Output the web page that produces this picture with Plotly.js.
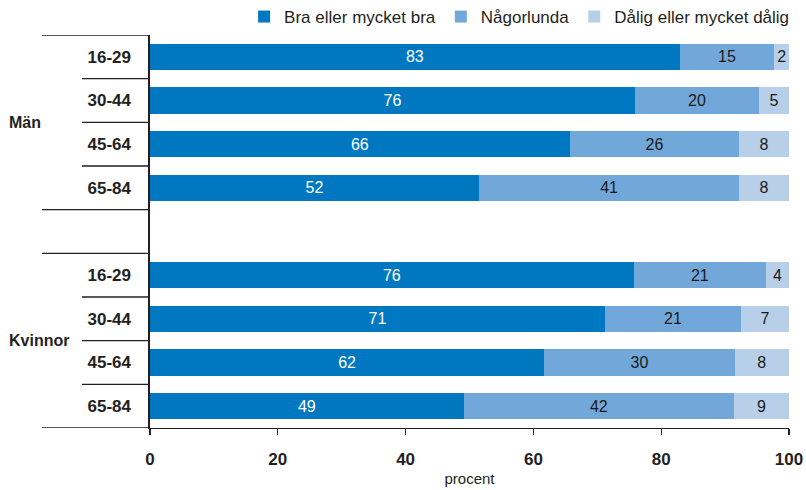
<!DOCTYPE html>
<html>
<head>
<meta charset="utf-8">
<script src="https://cdn.plot.ly/plotly-3.0.1.min.js"></script>
<style>html,body{margin:0;padding:0;background:#fff;}#chart{width:806px;height:490px;}</style>
</head>
<body>
<div id="chart"></div>
<script>
// ---- data ----
const groups = ['Män', 'Kvinnor'];
const ages = ['16-29', '30-44', '45-64', '65-84'];
const seriesNames = ['Bra eller mycket bra', 'Någorlunda', 'Dålig eller mycket dålig'];

// shares (percent)
const goodMen   = [82.9, 75.9, 65.7, 51.5];
const fairMen   = [14.8, 19.4, 26.5, 40.7];
const poorMen   = [2.3, 4.7, 7.8, 7.8];
const goodWomen = [75.7, 71.2, 61.7, 49.1];
const fairWomen = [20.7, 21.3, 29.8, 42.3];
const poorWomen = [3.6, 7.5, 8.5, 8.6];

// printed labels
const goodMenLbl   = [83, 76, 66, 52];
const fairMenLbl   = [15, 20, 26, 41];
const poorMenLbl   = [2, 5, 8, 8];
const goodWomenLbl = [76, 71, 62, 49];
const fairWomenLbl = [21, 21, 30, 42];
const poorWomenLbl = [4, 7, 8, 9];

const xTicks = [0, 20, 40, 60, 80, 100];
const xTitle = 'procent';

// ---- style ----
const colors = ['#0078c1', '#71a7d9', '#b8cfea'];
const textColors = ['#ffffff', '#1a1a1a', '#1a1a1a'];
const FONT = 'Liberation Sans, Arial, sans-serif';
const INK = '#231f20';

// ---- build categories (with an empty slot between groups) ----
const cats = [];
const tickText = [];
groups.forEach((g, gi) => {
  ages.forEach(a => { cats.push(g + ' ' + a); tickText.push(a); });
  if (gi < groups.length - 1) { cats.push('gap'); tickText.push(''); }
});

function withGap(a, b) { return a.concat([null], b); }
const vals = [withGap(goodMen, goodWomen), withGap(fairMen, fairWomen), withGap(poorMen, poorWomen)];
const lbls = [withGap(goodMenLbl, goodWomenLbl), withGap(fairMenLbl, fairWomenLbl), withGap(poorMenLbl, poorWomenLbl)];

const traces = seriesNames.map((name, i) => ({
  type: 'bar',
  orientation: 'h',
  name: name,
  y: cats,
  x: vals[i],
  text: lbls[i].map(v => v === null ? '' : String(v)),
  textposition: 'inside',
  insidetextanchor: 'middle',
  textangle: 0,
  constraintext: 'none',
  textfont: {family: FONT, size: 16, color: textColors[i]},
  marker: {color: colors[i], line: {width: 0}},
  hoverinfo: 'skip'
}));

// ---- dividers & group labels on the left ----
const shapes = [];
const annotations = [];
const longX0 = -108 / 639, shortX0 = -68 / 639;
let idx = 0;
groups.forEach((g, gi) => {
  const start = idx;
  shapes.push({type: 'line', xref: 'paper', yref: 'y', x0: longX0, x1: 0, y0: start - 0.5, y1: start - 0.5, line: {color: INK, width: 1.4}});
  for (let k = 1; k < ages.length; k++) {
    shapes.push({type: 'line', xref: 'paper', yref: 'y', x0: shortX0, x1: 0, y0: start + k - 0.5, y1: start + k - 0.5, line: {color: INK, width: 1.4}});
  }
  const end = start + ages.length - 1;
  shapes.push({type: 'line', xref: 'paper', yref: 'y', x0: longX0, x1: 0, y0: end + 0.5, y1: end + 0.5, line: {color: INK, width: 1.4}});
  annotations.push({text: g, xref: 'paper', yref: 'y', x: -143 / 639, y: (start + end) / 2, xanchor: 'left', yanchor: 'middle', showarrow: false, font: {family: FONT, size: 16, color: INK, weight: 'bold'}});
  idx = end + 2;
});

const layout = {
  width: 806, height: 490,
  margin: {l: 150, r: 17, t: 35, b: 62, autoexpand: false},
  paper_bgcolor: '#fff', plot_bgcolor: '#fff',
  barmode: 'stack',
  bargap: 0.4,
  font: {family: FONT, color: INK},
  showlegend: true,
  legend: {orientation: 'h', x: 1.008, xanchor: 'right', y: 1, yanchor: 'bottom', font: {family: FONT, size: 17, color: INK}, traceorder: 'normal', itemwidth: 30, tracegroupgap: 0, bgcolor: 'rgba(0,0,0,0)'},
  xaxis: {
    range: [0, 100], tickmode: 'array', tickvals: xTicks, ticktext: xTicks.map(String),
    showgrid: false, zeroline: false, showline: true, linecolor: INK, linewidth: 1.2,
    ticks: 'outside', ticklen: 6, tickcolor: INK, tickwidth: 1.2,
    ticklabelstandoff: 9,
    tickfont: {family: FONT, size: 17, color: INK, weight: 'bold'},
    title: {text: xTitle, font: {family: FONT, size: 15, color: INK}, standoff: 6}
  },
  yaxis: {
    type: 'category', categoryorder: 'array', categoryarray: cats,
    range: [cats.length - 0.5, -0.5],
    tickmode: 'array', tickvals: cats, ticktext: tickText,
    showgrid: false, zeroline: false, showline: true, linecolor: INK, linewidth: 1.6,
    ticks: 'outside', ticklen: 0, ticklabelstandoff: 14,
    tickfont: {family: FONT, size: 17, color: INK, weight: 'bold'}
  },
  shapes: shapes,
  annotations: annotations
};

Plotly.newPlot('chart', traces, layout, {displayModeBar: false, staticPlot: true});
</script>
</body>
</html>
